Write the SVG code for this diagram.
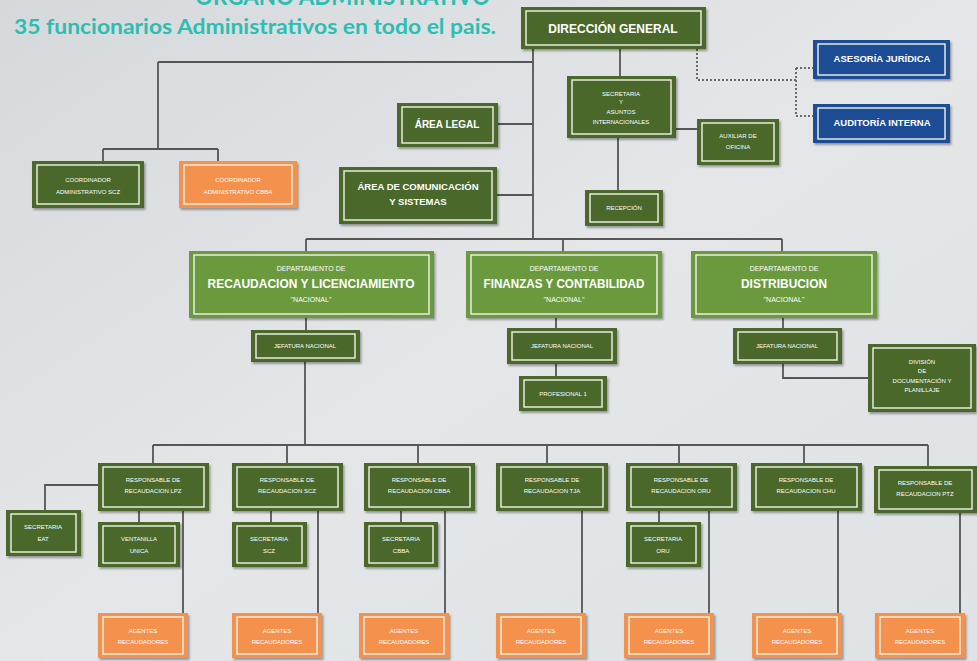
<svg xmlns="http://www.w3.org/2000/svg" width="977" height="661" viewBox="0 0 977 661">
<defs>
<linearGradient id="bg" x1="0" y1="0" x2="1" y2="1">
<stop offset="0" stop-color="#d6d9dc"/>
<stop offset="0.5" stop-color="#e4e6e8"/>
<stop offset="1" stop-color="#dfe3e6"/>
</linearGradient>
<filter id="sh" x="-10%" y="-10%" width="130%" height="140%">
<feDropShadow dx="1.5" dy="2" stdDeviation="1.2" flood-color="#000" flood-opacity="0.35"/>
</filter>
</defs>
<style>
.g{fill:#4a672a;filter:url(#sh)}
.lg{fill:#6b9a3e;filter:url(#sh)}
.o{fill:#f3914d;filter:url(#sh)}
.b{fill:#1f4d94;filter:url(#sh)}
.in{fill:none;stroke:#f2f2ea;stroke-width:1.4}
text{font-family:"Liberation Sans",Arial,sans-serif;fill:#ffffff;text-anchor:middle}
.t6{font-size:6px}
.t7{font-size:7px}
.t9{font-size:9.5px;font-weight:bold}
.t10{font-size:10px;font-weight:bold}
.t12{font-size:12px;font-weight:bold}
.ln{fill:none;stroke:#565656;stroke-width:1.8}
.dt{fill:none;stroke:#6a6a6a;stroke-width:2;stroke-dasharray:2 2}
.ttl{font-family:Lato,"Liberation Sans",sans-serif;font-weight:bold;fill:#2dbdb1;text-anchor:start}
</style>
<rect width="977" height="661" fill="url(#bg)"/>
<text class="ttl" x="195" y="5" font-size="24" textLength="295" lengthAdjust="spacingAndGlyphs">ORGANO ADMINISTRATIVO</text>
<text class="ttl" x="14" y="34" font-size="21" textLength="482" lengthAdjust="spacingAndGlyphs">35 funcionarios Administrativos en todo el pais.</text>

<g id="connectors">
<path class="ln" d="M533,49V239M158,62H533M158,62V149M103,149H218M103,149V161M218,149V161"/>
<path class="ln" d="M498,124H533M497,195H533M620,49V76M618,138V190M676,129H697"/>
<path class="ln" d="M306,239H782M306,239V251M563,239V251M782,239V251"/>
<path class="ln" d="M306,318V330M305,362V445M153,445H928M153,445V463M287,445V463M418,445V463M547,445V463M679,445V463M804,445V463M928,445V466"/>
<path class="ln" d="M556,318V328M556,364V376M783,318V328M783,364V378H868"/>
<path class="ln" d="M98,485H45V510M139,511V522M183,511V613M271,511V522M318,511V613M401,511V522M445,511V613M582,511V613M659,511V522M709,511V613M838,511V613M960,513V613"/>
<path class="dt" d="M697,49V80H796M796,68V116M796,68H813M796,116H813"/>
</g>

<g id="direccion"><rect class="g" x="521" y="7" width="185" height="42"/><rect class="in" x="526" y="11" width="175" height="34"/><text class="t12" x="613" y="33">DIRECCIÓN GENERAL</text></g>
<g id="coord-scz"><rect class="g" x="32" y="161" width="112" height="47"/><rect class="in" x="37" y="165" width="102" height="39"/><text class="t6" x="88" y="182">COORDINADOR</text><text class="t6" x="88" y="194">ADMINISTRATIVO SCZ</text></g>
<g id="coord-cbba"><rect class="o" x="179" y="161" width="118" height="47"/><rect class="in" x="184" y="165" width="108" height="39"/><text class="t6" x="238" y="182">COORDINADOR</text><text class="t6" x="238" y="194">ADMINISTRATIVO CBBA</text></g>
<g id="area-legal"><rect class="g" x="397" y="103" width="101" height="44"/><rect class="in" x="402" y="107" width="91" height="36"/><text class="t10" x="447" y="128">ÁREA LEGAL</text></g>
<g id="area-com"><rect class="g" x="339" y="167" width="158" height="57"/><rect class="in" x="344" y="171" width="148" height="49"/><text class="t9" x="418" y="190">ÁREA DE COMUNICACIÓN</text><text class="t9" x="418" y="205">Y SISTEMAS</text></g>
<g id="secretaria"><rect class="g" x="567" y="76" width="109" height="62"/><rect class="in" x="572" y="80" width="99" height="54"/><text class="t6" x="621" y="96">SECRETARIA</text><text class="t6" x="621" y="104">Y</text><text class="t6" x="621" y="114">ASUNTOS</text><text class="t6" x="621" y="124">INTERNACIONALES</text></g>
<g id="recepcion"><rect class="g" x="585" y="190" width="78" height="36"/><rect class="in" x="590" y="194" width="68" height="28"/><text class="t6" x="624" y="210">RECEPCIÓN</text></g>
<g id="auxiliar"><rect class="g" x="697" y="119" width="82" height="46"/><rect class="in" x="702" y="123" width="72" height="38"/><text class="t6" x="738" y="138">AUXILIAR DE</text><text class="t6" x="738" y="149">OFICINA</text></g>
<g id="asesoria"><rect class="b" x="813" y="40" width="137" height="39"/><rect class="in" x="818" y="44" width="127" height="31"/><text class="t9" x="882" y="62">ASESORÍA JURÍDICA</text></g>
<g id="auditoria"><rect class="b" x="813" y="104" width="137" height="39"/><rect class="in" x="818" y="108" width="127" height="31"/><text class="t9" x="882" y="126">AUDITORÍA INTERNA</text></g>

<g id="dep-recaudacion"><rect class="lg" x="189" y="251" width="245" height="67"/><rect class="in" x="194" y="255" width="235" height="59"/><text class="t7" x="311" y="271">DEPARTAMENTO  DE</text><text class="t12" x="311" y="288" textLength="207" lengthAdjust="spacingAndGlyphs">RECAUDACION  Y  LICENCIAMIENTO</text><text class="t7" x="311" y="302">"NACIONAL"</text></g>
<g id="dep-finanzas"><rect class="lg" x="466" y="251" width="196" height="67"/><rect class="in" x="471" y="255" width="186" height="59"/><text class="t7" x="564" y="271">DEPARTAMENTO DE</text><text class="t12" x="564" y="288" textLength="161" lengthAdjust="spacingAndGlyphs">FINANZAS Y CONTABILIDAD</text><text class="t7" x="564" y="302">"NACIONAL"</text></g>
<g id="dep-distribucion"><rect class="lg" x="691" y="251" width="186" height="67"/><rect class="in" x="696" y="255" width="176" height="59"/><text class="t7" x="784" y="271">DEPARTAMENTO DE</text><text class="t12" x="784" y="288" textLength="86" lengthAdjust="spacingAndGlyphs">DISTRIBUCION</text><text class="t7" x="784" y="302">"NACIONAL"</text></g>

<g id="jefatura-rec"><rect class="g" x="251" y="330" width="109" height="32"/><rect class="in" x="256" y="334" width="99" height="24"/><text class="t6" x="305" y="348">JEFATURA NACIONAL</text></g>
<g id="jefatura-fin"><rect class="g" x="507" y="328" width="110" height="36"/><rect class="in" x="512" y="332" width="100" height="28"/><text class="t6" x="562" y="348">JEFATURA NACIONAL</text></g>
<g id="profesional"><rect class="g" x="519" y="376" width="88" height="35"/><rect class="in" x="524" y="380" width="78" height="27"/><text class="t6" x="563" y="396">PROFESIONAL 1</text></g>
<g id="jefatura-dis"><rect class="g" x="733" y="328" width="109" height="36"/><rect class="in" x="738" y="332" width="99" height="28"/><text class="t6" x="787" y="348">JEFATURA NACIONAL</text></g>
<g id="division"><rect class="g" x="868" y="344" width="108" height="68"/><rect class="in" x="873" y="348" width="98" height="60"/><text class="t6" x="922" y="364">DIVISIÓN</text><text class="t6" x="922" y="373">DE</text><text class="t6" x="922" y="383">DOCUMENTACIÓN Y</text><text class="t6" x="922" y="392">PLANILLAJE</text></g>

<g id="resp-lpz"><rect class="g" x="98" y="463" width="111" height="48"/><rect class="in" x="103" y="467" width="101" height="40"/><text class="t6" x="153" y="482">RESPONSABLE DE</text><text class="t6" x="153" y="493">RECAUDACION  LPZ</text></g>
<g id="resp-scz"><rect class="g" x="232" y="463" width="111" height="48"/><rect class="in" x="237" y="467" width="101" height="40"/><text class="t6" x="287" y="482">RESPONSABLE DE</text><text class="t6" x="287" y="493">RECAUDACION  SCZ</text></g>
<g id="resp-cbba"><rect class="g" x="364" y="463" width="111" height="48"/><rect class="in" x="369" y="467" width="101" height="40"/><text class="t6" x="419" y="482">RESPONSABLE DE</text><text class="t6" x="419" y="493">RECAUDACION  CBBA</text></g>
<g id="resp-tja"><rect class="g" x="496" y="463" width="112" height="48"/><rect class="in" x="501" y="467" width="102" height="40"/><text class="t6" x="552" y="482">RESPONSABLE DE</text><text class="t6" x="552" y="493">RECAUDACION  TJA</text></g>
<g id="resp-oru"><rect class="g" x="626" y="463" width="111" height="48"/><rect class="in" x="631" y="467" width="101" height="40"/><text class="t6" x="681" y="482">RESPONSABLE DE</text><text class="t6" x="681" y="493">RECAUDACION  ORU</text></g>
<g id="resp-chu"><rect class="g" x="751" y="463" width="111" height="48"/><rect class="in" x="756" y="467" width="101" height="40"/><text class="t6" x="806" y="482">RESPONSABLE DE</text><text class="t6" x="806" y="493">RECAUDACION  CHU</text></g>
<g id="resp-ptz"><rect class="g" x="874" y="466" width="103" height="47"/><rect class="in" x="879" y="470" width="93" height="39"/><text class="t6" x="925" y="485">RESPONSABLE DE</text><text class="t6" x="925" y="496">RECAUDACION  PTZ</text></g>

<g id="sec-eat"><rect class="g" x="6" y="510" width="75" height="46"/><rect class="in" x="11" y="514" width="65" height="38"/><text class="t6" x="43" y="529">SECRETARIA</text><text class="t6" x="43" y="541">EAT</text></g>
<g id="ventanilla"><rect class="g" x="98" y="522" width="82" height="45"/><rect class="in" x="103" y="526" width="72" height="37"/><text class="t6" x="139" y="541">VENTANILLA</text><text class="t6" x="139" y="553">UNICA</text></g>
<g id="sec-scz"><rect class="g" x="232" y="522" width="75" height="45"/><rect class="in" x="237" y="526" width="65" height="37"/><text class="t6" x="269" y="541">SECRETARIA</text><text class="t6" x="269" y="553">SCZ</text></g>
<g id="sec-cbba"><rect class="g" x="364" y="522" width="74" height="45"/><rect class="in" x="369" y="526" width="64" height="37"/><text class="t6" x="401" y="541">SECRETARIA</text><text class="t6" x="401" y="553">CBBA</text></g>
<g id="sec-oru"><rect class="g" x="626" y="522" width="75" height="45"/><rect class="in" x="631" y="526" width="65" height="37"/><text class="t6" x="663" y="541">SECRETARIA</text><text class="t6" x="663" y="553">ORU</text></g>

<g id="agentes-lpz"><rect class="o" x="98" y="613" width="90" height="45"/><rect class="in" x="103" y="617" width="80" height="37"/><text class="t6" x="143" y="633">AGENTES</text><text class="t6" x="143" y="644">RECAUDADORES</text></g>
<g id="agentes-scz"><rect class="o" x="232" y="613" width="90" height="45"/><rect class="in" x="237" y="617" width="80" height="37"/><text class="t6" x="277" y="633">AGENTES</text><text class="t6" x="277" y="644">RECAUDADORES</text></g>
<g id="agentes-cbba"><rect class="o" x="359" y="613" width="90" height="45"/><rect class="in" x="364" y="617" width="80" height="37"/><text class="t6" x="404" y="633">AGENTES</text><text class="t6" x="404" y="644">RECAUDADORES</text></g>
<g id="agentes-tja"><rect class="o" x="496" y="613" width="90" height="45"/><rect class="in" x="501" y="617" width="80" height="37"/><text class="t6" x="541" y="633">AGENTES</text><text class="t6" x="541" y="644">RECAUDADORES</text></g>
<g id="agentes-oru"><rect class="o" x="624" y="613" width="90" height="45"/><rect class="in" x="629" y="617" width="80" height="37"/><text class="t6" x="669" y="633">AGENTES</text><text class="t6" x="669" y="644">RECAUDADORES</text></g>
<g id="agentes-chu"><rect class="o" x="752" y="613" width="90" height="45"/><rect class="in" x="757" y="617" width="80" height="37"/><text class="t6" x="797" y="633">AGENTES</text><text class="t6" x="797" y="644">RECAUDADORES</text></g>
<g id="agentes-ptz"><rect class="o" x="875" y="613" width="90" height="45"/><rect class="in" x="880" y="617" width="80" height="37"/><text class="t6" x="920" y="633">AGENTES</text><text class="t6" x="920" y="644">RECAUDADORES</text></g>
</svg>
